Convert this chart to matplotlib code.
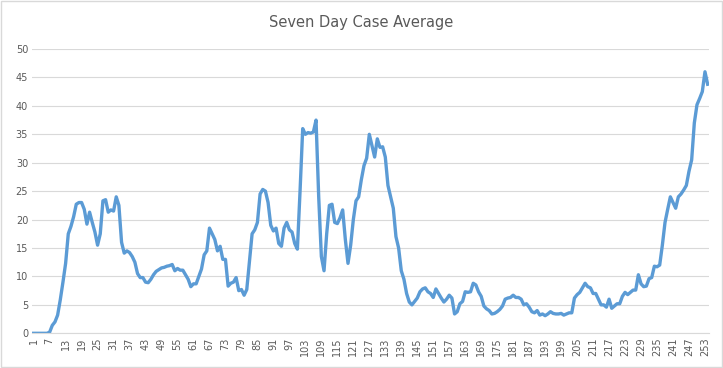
import matplotlib
matplotlib.use("Agg")
import matplotlib.pyplot as plt
from matplotlib.patches import Rectangle

title = "Seven Day Case Average"

values = [
    0, 0, 0, 0, 0, 0, 0.2, 1.4, 2.0, 3.2,
    5.9, 9.0, 12.3, 17.5, 18.8, 20.5, 22.7, 23.0, 23.0, 21.8,
    19.2, 21.3, 19.5, 17.8, 15.5, 17.5, 23.3, 23.5, 21.3, 21.7,
    21.5, 24.0, 22.5, 16.0, 14.1, 14.5, 14.2, 13.5, 12.5, 10.5,
    9.8, 9.8, 9.0, 8.9, 9.5, 10.3, 10.9, 11.2, 11.5, 11.6,
    11.8, 11.9, 12.1, 11.0, 11.4, 11.1, 11.1, 10.3, 9.5, 8.2,
    8.7, 8.7, 10.0, 11.3, 13.8, 14.5, 18.5, 17.5, 16.5, 14.5,
    15.3, 13.0, 13.0, 8.3, 8.8, 9.0, 9.8, 7.5, 7.7, 6.7,
    7.7, 12.5, 17.5, 18.2, 19.5, 24.5, 25.3, 25.0, 23.0, 19.0,
    18.0, 18.5, 15.8, 15.3, 18.5, 19.5, 18.2, 17.8, 15.8, 14.8,
    25.0, 36.0, 35.0, 35.3, 35.2, 35.4, 37.5, 24.0, 13.5, 11.0,
    17.5, 22.5, 22.7, 19.5, 19.3, 20.3, 21.7, 16.5, 12.3, 15.5,
    20.0, 23.3, 24.0, 27.0, 29.5, 30.8, 35.0, 33.0, 31.0, 34.2,
    32.7, 32.8, 31.0, 26.0, 24.0, 22.0, 17.0, 15.0, 11.0, 9.5,
    7.0, 5.5, 5.0, 5.6, 6.2, 7.3, 7.8, 8.0, 7.3, 7.0,
    6.3, 7.8, 7.0, 6.2, 5.5, 6.0, 6.7, 6.2, 3.4, 3.8,
    5.2, 5.6, 7.3, 7.2, 7.3, 8.8, 8.5, 7.3, 6.5, 4.8,
    4.3, 4.0, 3.4, 3.5, 3.8, 4.2, 4.8, 6.0, 6.2, 6.3,
    6.7, 6.3, 6.3, 6.0, 5.0, 5.2, 4.6, 3.8, 3.6, 4.0,
    3.2, 3.4, 3.1, 3.4, 3.8, 3.5, 3.4, 3.4, 3.5, 3.2,
    3.4, 3.6, 3.6, 6.2, 6.8, 7.2, 8.0, 8.8, 8.2, 8.0,
    7.0, 7.0, 6.0, 5.0, 5.0, 4.6, 6.0, 4.4, 4.8, 5.2,
    5.2, 6.5, 7.2, 6.8, 7.2, 7.6, 7.6, 10.3, 8.7, 8.2,
    8.3, 9.6, 9.8, 11.8, 11.7, 12.0, 15.5, 19.5, 21.8, 24.0,
    23.0, 22.0, 24.0, 24.5, 25.2, 26.0, 28.5, 30.5, 37.0, 40.2,
    41.3, 42.5, 46.0, 43.8,
]
days = list(range(1, len(values) + 1))
x_tick_labels = [str(d) for d in days[::6]]
y_ticks = [0, 5, 10, 15, 20, 25, 30, 35, 40, 45, 50]

fig = plt.figure(figsize=(7.23, 3.68), dpi=100)
ax = fig.add_axes([0.0447, 0.0943, 0.9359, 0.7725])

ax.plot(days, values, color="#5B9BD5", linewidth=2.4, solid_joinstyle="round")

ax.set_xlim(0.5, len(values) + 0.5)
ax.set_ylim(0, 50)
ax.set_yticks(y_ticks)
ax.set_yticklabels([str(v) for v in y_ticks])
ax.set_xticks(days[::6])
ax.set_xticklabels(x_tick_labels, rotation=90)

ax.grid(axis="y", color="#d9d9d9", linewidth=0.8)
ax.set_axisbelow(True)
for s in ["top", "right", "left"]:
    ax.spines[s].set_visible(False)
ax.spines["bottom"].set_color("#d9d9d9")
ax.spines["bottom"].set_linewidth(0.8)
ax.tick_params(axis="both", length=0, labelsize=7, colors="#595959", pad=3)

fig.text(0.5, 0.94, title, ha="center", va="center", fontsize=10.5, color="#595959")

fig.patches.append(Rectangle((0.001, 0.002), 0.997, 0.995, transform=fig.transFigure,
                             fill=False, edgecolor="#d9d9d9", linewidth=1))

fig.savefig("out.png", dpi=100)
